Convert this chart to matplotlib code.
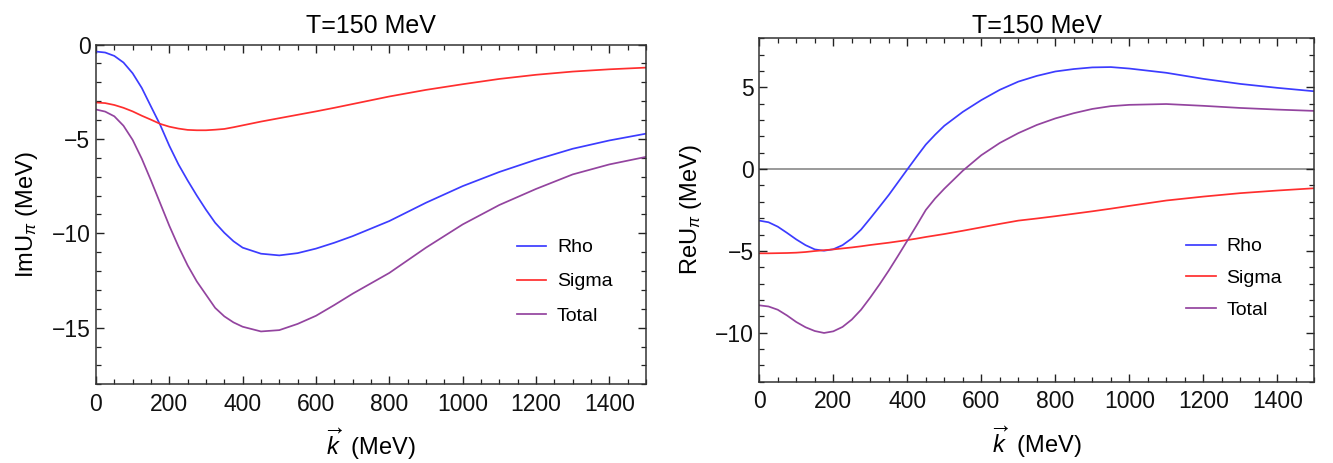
import matplotlib
matplotlib.use("Agg")
import matplotlib.pyplot as plt
from matplotlib.ticker import MultipleLocator

# ---------------- data ----------------
k_im = [0, 25, 50, 75, 100, 125, 150, 175, 200, 225, 250, 275, 300, 325, 350, 375, 400,
        450, 500, 550, 600, 650, 700, 800, 900, 1000, 1100, 1200, 1300, 1400, 1500]
rho_im = [-0.37, -0.42, -0.6, -0.95, -1.52, -2.3, -3.28, -4.25, -5.36, -6.35, -7.2, -8.0,
          -8.75, -9.44, -9.97, -10.42, -10.76, -11.08, -11.17, -11.05, -10.81, -10.5,
          -10.15, -9.35, -8.38, -7.5, -6.75, -6.1, -5.52, -5.08, -4.72]
sigma_im = [-3.07, -3.1, -3.2, -3.35, -3.54, -3.77, -3.98, -4.2, -4.35, -4.45, -4.52,
            -4.54, -4.54, -4.51, -4.47, -4.38, -4.28, -4.08, -3.9, -3.72, -3.54, -3.35,
            -3.15, -2.75, -2.4, -2.1, -1.82, -1.6, -1.43, -1.31, -1.22]
total_im = [-3.44, -3.55, -3.8, -4.3, -5.05, -6.05, -7.2, -8.4, -9.6, -10.7, -11.7, -12.55,
            -13.25, -13.95, -14.4, -14.72, -14.95, -15.2, -15.13, -14.8, -14.37, -13.8,
            -13.2, -12.1, -10.76, -9.53, -8.5, -7.65, -6.88, -6.35, -5.95]

k_re = [0, 25, 50, 75, 100, 125, 150, 175, 200, 225, 250, 275, 300, 325, 350, 375, 400,
        425, 450, 475, 500, 550, 600, 650, 700, 750, 800, 850, 900, 950, 1000, 1100,
        1200, 1300, 1400, 1500]
rho_re = [-3.15, -3.25, -3.52, -3.9, -4.3, -4.65, -4.91, -4.99, -4.9, -4.65, -4.24, -3.7,
          -3.01, -2.3, -1.58, -0.8, -0.02, 0.75, 1.5, 2.1, 2.65, 3.5, 4.22, 4.85, 5.35,
          5.7, 5.97, 6.12, 6.22, 6.24, 6.15, 5.89, 5.52, 5.21, 4.97, 4.76]
sigma_re = [-5.15, -5.15, -5.14, -5.13, -5.11, -5.07, -5.01, -4.96, -4.91, -4.85, -4.79,
            -4.72, -4.64, -4.57, -4.5, -4.42, -4.34, -4.25, -4.15, -4.06, -3.97, -3.77,
            -3.56, -3.35, -3.15, -3.02, -2.88, -2.73, -2.58, -2.42, -2.25, -1.92, -1.68,
            -1.47, -1.31, -1.17]
total_re = [-8.33, -8.4, -8.6, -8.95, -9.35, -9.67, -9.9, -10.02, -9.92, -9.65, -9.2, -8.6,
            -7.85, -7.05, -6.2, -5.3, -4.38, -3.45, -2.5, -1.8, -1.2, -0.1, 0.85, 1.6,
            2.2, 2.7, 3.1, 3.42, 3.68, 3.85, 3.93, 3.98, 3.87, 3.74, 3.64, 3.56]

series_labels = ["Rho", "Sigma", "Total"]
title_text = "T=150 MeV"

# ---------------- style ----------------
plt.rcParams["font.family"] = ["Liberation Sans", "DejaVu Sans"]
plt.rcParams["mathtext.fontset"] = "custom"
plt.rcParams["mathtext.rm"] = "Liberation Sans"
plt.rcParams["mathtext.it"] = "Liberation Sans:italic"
plt.rcParams["mathtext.bf"] = "Liberation Sans:bold"

FS_TICK = 16.5
FS_TITLE = 18
FS_LABEL = 17
FS_LEG = 14
colors = ["#3c3cff", "#ff2e2e", "#93449f"]
LW = 1.25

fig = plt.figure(figsize=(13.33, 4.63), dpi=100)
ax1 = fig.add_axes([0.0720, 0.170, 0.4126, 0.7337])
ax2 = fig.add_axes([0.5696, 0.1756, 0.4164, 0.7417])


def style(ax, title_pad):
    ax.set_xlim(0, 1500)
    ax.xaxis.set_major_locator(MultipleLocator(200))
    ax.xaxis.set_minor_locator(MultipleLocator(50))
    ax.yaxis.set_major_locator(MultipleLocator(5))
    ax.yaxis.set_minor_locator(MultipleLocator(1))
    ax.tick_params(which="both", direction="in", top=True, right=True,
                   labelsize=FS_TICK, colors="#222222", labelcolor="#111111")
    ax.tick_params(axis="x", which="major", length=6, width=1.0, pad=6)
    ax.tick_params(axis="y", which="major", length=6, width=1.0, pad=4)
    ax.tick_params(which="minor", length=3.5, width=0.9)
    for s in ax.spines.values():
        s.set_linewidth(1.1)
        s.set_color("#333333")
    ax.set_title(title_text, fontsize=FS_TITLE, pad=title_pad)
    ax.set_xlabel(r"$\overrightarrow{k}\ $ (MeV)", fontsize=FS_LABEL, labelpad=8)


# left panel
for ys, c, lab in zip([rho_im, sigma_im, total_im], colors, series_labels):
    ax1.plot(k_im, ys, color=c, lw=LW, label=lab)
style(ax1, 8.5)
ax1.set_ylim(-18, 0)
ax1.set_ylabel(r"ImU$_{\pi}$ (MeV)", fontsize=FS_LABEL, labelpad=8)
ax1.legend(loc="upper left", bbox_to_anchor=(0.734, 0.48), frameon=False,
           fontsize=FS_LEG, handlelength=1.5, handletextpad=0.55, labelspacing=0.85)

# right panel
ax2.axhline(0, color="#7f7f7f", lw=1.1, zorder=1)
for ys, c, lab in zip([rho_re, sigma_re, total_re], colors, series_labels):
    ax2.plot(k_re, ys, color=c, lw=LW, label=lab)
style(ax2, 1.5)
ax2.set_ylim(-13, 8)
ax2.set_ylabel(r"ReU$_{\pi}$ (MeV)", fontsize=FS_LABEL, labelpad=8)
ax2.legend(loc="upper left", bbox_to_anchor=(0.738, 0.47), frameon=False,
           fontsize=FS_LEG, handlelength=1.5, handletextpad=0.55, labelspacing=0.72)

fig.savefig("out.png", dpi=100)
